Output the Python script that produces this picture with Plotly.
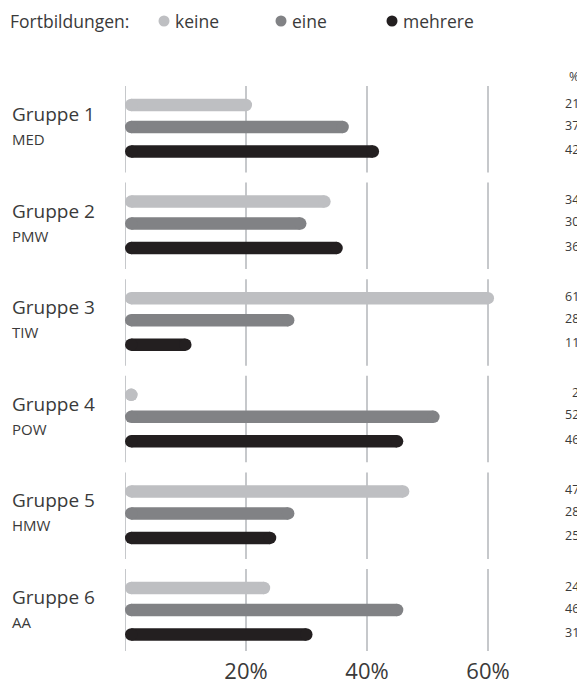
import plotly.graph_objects as go

# ---- data -------------------------------------------------------------
group_names = ["Gruppe 1", "Gruppe 2", "Gruppe 3", "Gruppe 4", "Gruppe 5", "Gruppe 6"]
group_codes = ["MED", "PMW", "TIW", "POW", "HMW", "AA"]
series_names = ["keine", "eine", "mehrere"]
keine = [21, 34, 61, 2, 47, 24]
eine = [37, 30, 28, 52, 28, 46]
mehrere = [42, 36, 11, 46, 25, 31]
tick_values = [20, 40, 60]
tick_labels = ["20%", "40%", "60%"]
legend_title = "Fortbildungen:"

# ---- styling / layout constants ----------------------------------------
colors = ["#bebfc2", "#818285", "#231f20"]
text_color = "#3a3a3a"
grid_color = "#c6c8cb"
font = "Open Sans"

W, H = 577, 699
PLOT_LEFT = 125          # px, position of 0 %
PLOT_BOTTOM = 651        # px, bottom of the plotting area
PX_PER_PCT = 6.05        # horizontal scale
BAR_PX = 12.5            # bar thickness
GROUP_TOP = 105          # y of the first bar row
GROUP_STEP = 96.6        # distance between groups
ROW_OFFSETS = [0, 22, 46.5]
GRID_ABOVE, GRID_BELOW = 19, 21
VALUE_RIGHT = 581        # right edge of the value column (runs past the page edge)

x_max = (W - PLOT_LEFT) / PX_PER_PCT
r = BAR_PX / 2 / PX_PER_PCT  # cap radius in axis units


def paper_x(px):
    return (px - PLOT_LEFT) / (W - PLOT_LEFT)


def row_y(g, s):
    return GROUP_TOP + g * GROUP_STEP + ROW_OFFSETS[s]


fig = go.Figure()

# segmented vertical gridlines, one block per group
gx, gy = [], []
for g in range(len(group_names)):
    top = row_y(g, 0) - GRID_ABOVE
    bottom = row_y(g, 2) + GRID_BELOW
    for t in [0] + tick_values:
        gx += [t, t, None]
        gy += [top, bottom, None]
fig.add_trace(go.Scatter(x=gx, y=gy, mode="lines",
                         line=dict(color=grid_color, width=2),
                         hoverinfo="skip", showlegend=False))

# rounded bars: thick line + round markers at both ends
for s, values in enumerate([keine, eine, mehrere]):
    lx, ly, mx, my = [], [], [], []
    for g, v in enumerate(values):
        y = row_y(g, s)
        x0, x1 = r, max(v - r, r)
        lx += [x0, x1, None]
        ly += [y, y, None]
        mx += [x0, x1]
        my += [y, y]
    fig.add_trace(go.Scatter(x=lx, y=ly, mode="lines",
                             line=dict(color=colors[s], width=BAR_PX),
                             hoverinfo="skip", showlegend=False))
    fig.add_trace(go.Scatter(x=mx, y=my, mode="markers",
                             marker=dict(color=colors[s], size=BAR_PX, line=dict(width=0)),
                             hoverinfo="skip", showlegend=False))

annotations = []
shapes = []

# group labels on the left
for g, (name, code) in enumerate(zip(group_names, group_codes)):
    y0 = row_y(g, 0)
    annotations.append(dict(x=paper_x(10), y=y0 + 9, xref="paper", yref="y",
                            text=name, showarrow=False, xanchor="left", yanchor="middle",
                            font=dict(size=19, color=text_color, family=font)))
    annotations.append(dict(x=paper_x(10), y=y0 + 34, xref="paper", yref="y",
                            text=code, showarrow=False, xanchor="left", yanchor="middle",
                            font=dict(size=15, color=text_color, family=font)))

# value column on the right
annotations.append(dict(x=paper_x(VALUE_RIGHT), y=76, xref="paper", yref="y", text="%",
                        showarrow=False, xanchor="right", yanchor="middle",
                        font=dict(size=12.5, color=text_color, family=font)))
for s, values in enumerate([keine, eine, mehrere]):
    for g, v in enumerate(values):
        annotations.append(dict(x=paper_x(VALUE_RIGHT), y=row_y(g, s) - 2, xref="paper",
                                yref="y", text=str(v), showarrow=False, xanchor="right",
                                yanchor="middle",
                                font=dict(size=12.5, color=text_color, family=font)))

# legend row
LEGEND_Y = 21
annotations.append(dict(x=paper_x(8), y=LEGEND_Y, xref="paper", yref="y", text=legend_title,
                        showarrow=False, xanchor="left", yanchor="middle",
                        font=dict(size=17.5, color=text_color, family=font)))
legend_dot_x = [164, 281, 392]
for s, name in enumerate(series_names):
    cx = legend_dot_x[s]
    shapes.append(dict(type="circle", xref="paper", yref="y",
                       xsizemode="pixel", ysizemode="pixel",
                       xanchor=paper_x(cx), yanchor=LEGEND_Y,
                       x0=-5.5, x1=5.5, y0=-5.5, y1=5.5,
                       fillcolor=colors[s], line=dict(width=0)))
    annotations.append(dict(x=paper_x(cx + 9), y=LEGEND_Y, xref="paper", yref="y",
                            text=name, showarrow=False, xanchor="left", yanchor="middle",
                            font=dict(size=17.5, color=text_color, family=font)))

fig.update_layout(
    width=W, height=H,
    margin=dict(l=PLOT_LEFT, r=0, t=0, b=H - PLOT_BOTTOM, pad=0),
    paper_bgcolor="white", plot_bgcolor="white",
    showlegend=False,
    annotations=annotations,
    shapes=shapes,
    xaxis=dict(range=[0, x_max], showgrid=False, zeroline=False, showline=False,
               tickmode="array", tickvals=tick_values, ticktext=tick_labels,
               ticks="", ticklabelstandoff=5,
               tickfont=dict(size=22, color=text_color, family=font),
               fixedrange=True),
    yaxis=dict(range=[PLOT_BOTTOM, 0], showgrid=False, zeroline=False, showline=False,
               showticklabels=False, ticks="", fixedrange=True),
)

fig.write_html("out.html", config={"displayModeBar": False})
